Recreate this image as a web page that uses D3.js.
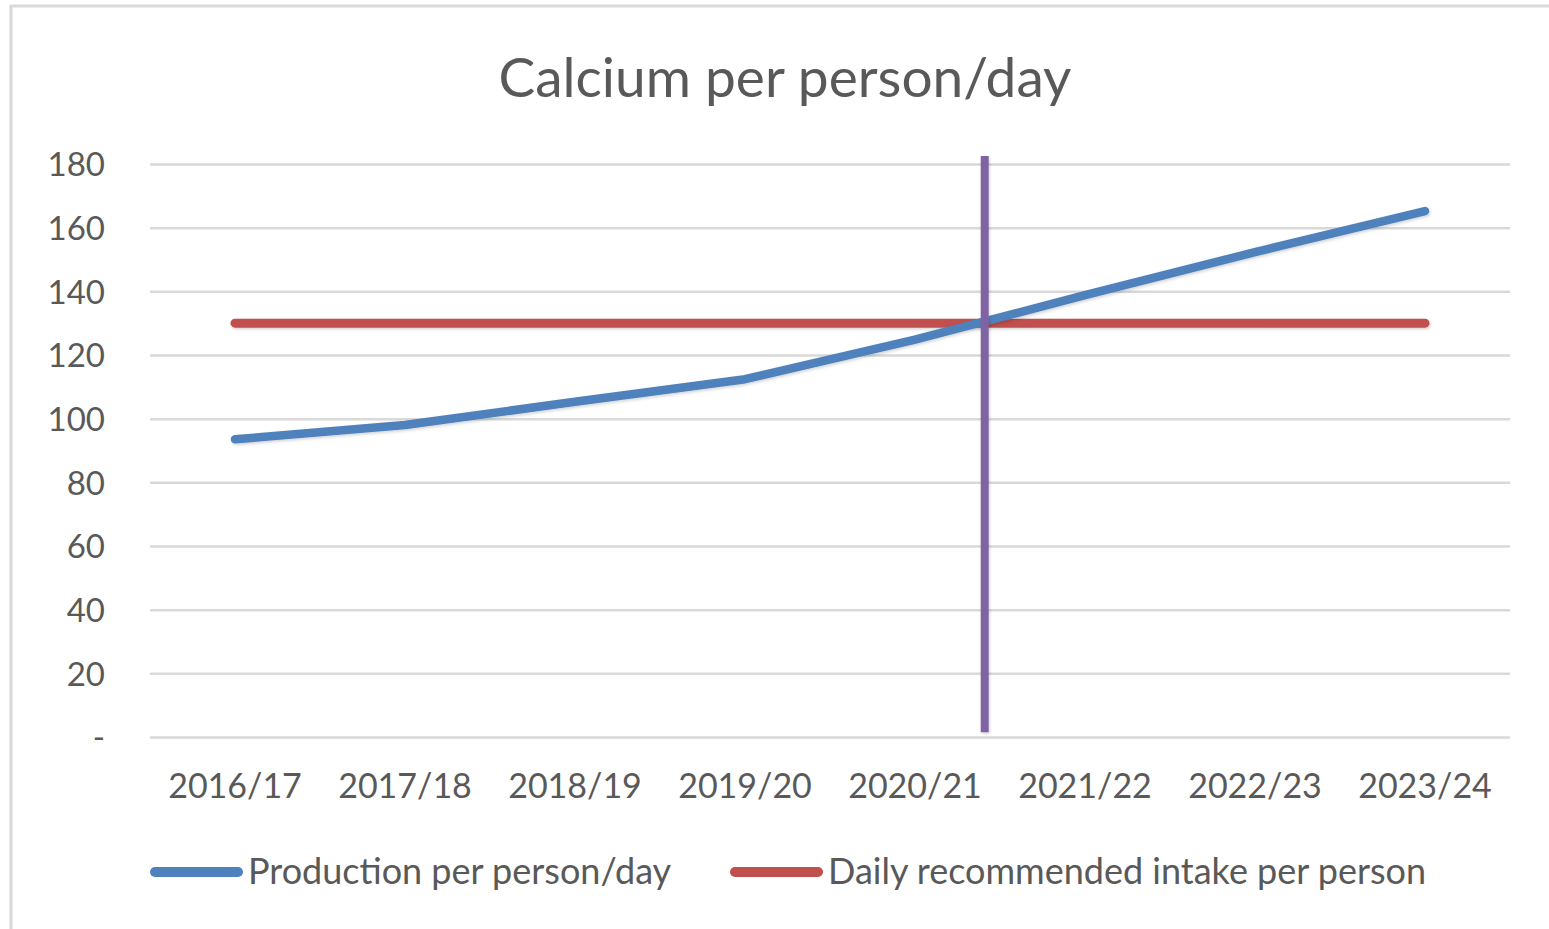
<!DOCTYPE html>
<html>
<head>
<meta charset="utf-8">
<script src="https://cdn.jsdelivr.net/npm/d3@7"></script>
<style>
  body { margin: 0; background: #fff; }
  text { font-family: Lato, "Open Sans", sans-serif; fill: #595959; }
</style>
</head>
<body>
<div id="chart"></div>
<script>
  const years = ['2016/17', '2017/18', '2018/19', '2019/20', '2020/21', '2021/22', '2022/23', '2023/24'];
  const production = [93.5, 98, 105.3, 112.4, 124.8, 138.8, 152.3, 165.2];
  const recommended = [130, 130, 130, 130, 130, 130, 130, 130];
  const yTicks = [0, 20, 40, 60, 80, 100, 120, 140, 160, 180];
  // vertical marker where production crosses the recommended intake
  const markerIndex = 4.41;
  const markerRange = [1.5, 182.5];

  const width = 1549;
  const height = 929;
  const margin = { top: 164, bottom: 192, left: 150, right: 39 };

  const svg = d3.select('#chart')
    .append('svg')
    .attr('width', width)
    .attr('height', height);

  const defs = svg.append('defs');
  const f = defs.append('filter').attr('id', 'shadow')
    .attr('filterUnits', 'userSpaceOnUse')
    .attr('x', 0).attr('y', 0).attr('width', width).attr('height', height);
  f.append('feDropShadow').attr('dx', 1).attr('dy', 1.5).attr('stdDeviation', 1.5)
    .attr('flood-color', '#000').attr('flood-opacity', 0.18);

  // outer chart border
  svg.append('rect')
    .attr('x', 11).attr('y', 6)
    .attr('width', width + 20).attr('height', height + 20)
    .attr('fill', 'none')
    .attr('stroke', '#d9d9d9')
    .attr('stroke-width', 3);

  const x = d3.scaleBand()
    .domain(years)
    .range([margin.left, width - margin.right]);

  const xi = d3.scaleLinear()
    .domain([0, years.length - 1])
    .range([x(years[0]) + x.bandwidth() / 2, x(years[years.length - 1]) + x.bandwidth() / 2]);

  const y = d3.scaleLinear()
    .domain([0, 180])
    .range([height - margin.bottom, margin.top]);

  // gridlines
  svg.append('g')
    .attr('transform', `translate(${margin.left},0)`)
    .call(d3.axisLeft(y).tickValues(yTicks).tickSize(-(width - margin.left - margin.right)).tickFormat(''))
    .call(g => g.select('.domain').remove())
    .call(g => g.selectAll('line').attr('stroke', '#d9d9d9').attr('stroke-width', 2.5));

  // y axis labels
  svg.append('g')
    .attr('transform', `translate(105,0)`)
    .call(d3.axisLeft(y).tickValues(yTicks).tickSize(0).tickPadding(0)
      .tickFormat(d => d === 0 ? '-' : d))
    .call(g => g.select('.domain').remove())
    .call(g => g.selectAll('text')
      .attr('font-size', '33px')
      .attr('font-family', 'Lato, sans-serif')
      .attr('fill', '#595959')
      .attr('dy', '0.36em'));

  // x axis labels
  svg.append('g')
    .attr('transform', `translate(0,${height - margin.bottom})`)
    .call(d3.axisBottom(x).tickSize(0).tickPadding(37))
    .call(g => g.select('.domain').remove())
    .call(g => g.selectAll('text')
      .attr('font-size', '34px')
      .attr('font-family', 'Lato, sans-serif')
      .attr('fill', '#595959'));

  const line = d3.line()
    .x((d, i) => xi(i))
    .y(d => y(d));

  svg.append('path')
    .datum(recommended)
    .attr('d', line)
    .attr('fill', 'none')
    .attr('stroke', '#c0504d')
    .attr('stroke-width', 9)
    .attr('stroke-linecap', 'round')
    .attr('filter', 'url(#shadow)');

  svg.append('path')
    .datum(production)
    .attr('d', line)
    .attr('fill', 'none')
    .attr('stroke', '#4f81bd')
    .attr('stroke-width', 8.5)
    .attr('stroke-linecap', 'round')
    .attr('stroke-linejoin', 'round')
    .attr('filter', 'url(#shadow)');

  svg.append('line')
    .attr('x1', xi(markerIndex)).attr('x2', xi(markerIndex))
    .attr('y1', y(markerRange[0])).attr('y2', y(markerRange[1]))
    .attr('stroke', '#8064a2')
    .attr('stroke-width', 8)
    .attr('filter', 'url(#shadow)');

  // title
  svg.append('text')
    .attr('x', 785).attr('y', 97)
    .attr('text-anchor', 'middle')
    .attr('font-size', '55px')
    .text('Calcium per person/day');

  // legend
  const legend = [
    { name: 'Production per person/day', color: '#4f81bd', x: 155 },
    { name: 'Daily recommended intake per person', color: '#c0504d', x: 735 }
  ];
  const lg = svg.append('g');
  legend.forEach(d => {
    lg.append('line')
      .attr('x1', d.x).attr('x2', d.x + 83)
      .attr('y1', 872).attr('y2', 872)
      .attr('stroke', d.color)
      .attr('stroke-width', 10)
      .attr('stroke-linecap', 'round');
    lg.append('text')
      .attr('x', d.x + 93).attr('y', 884)
      .attr('font-size', '36px')
      .text(d.name);
  });
</script>
</body>
</html>
